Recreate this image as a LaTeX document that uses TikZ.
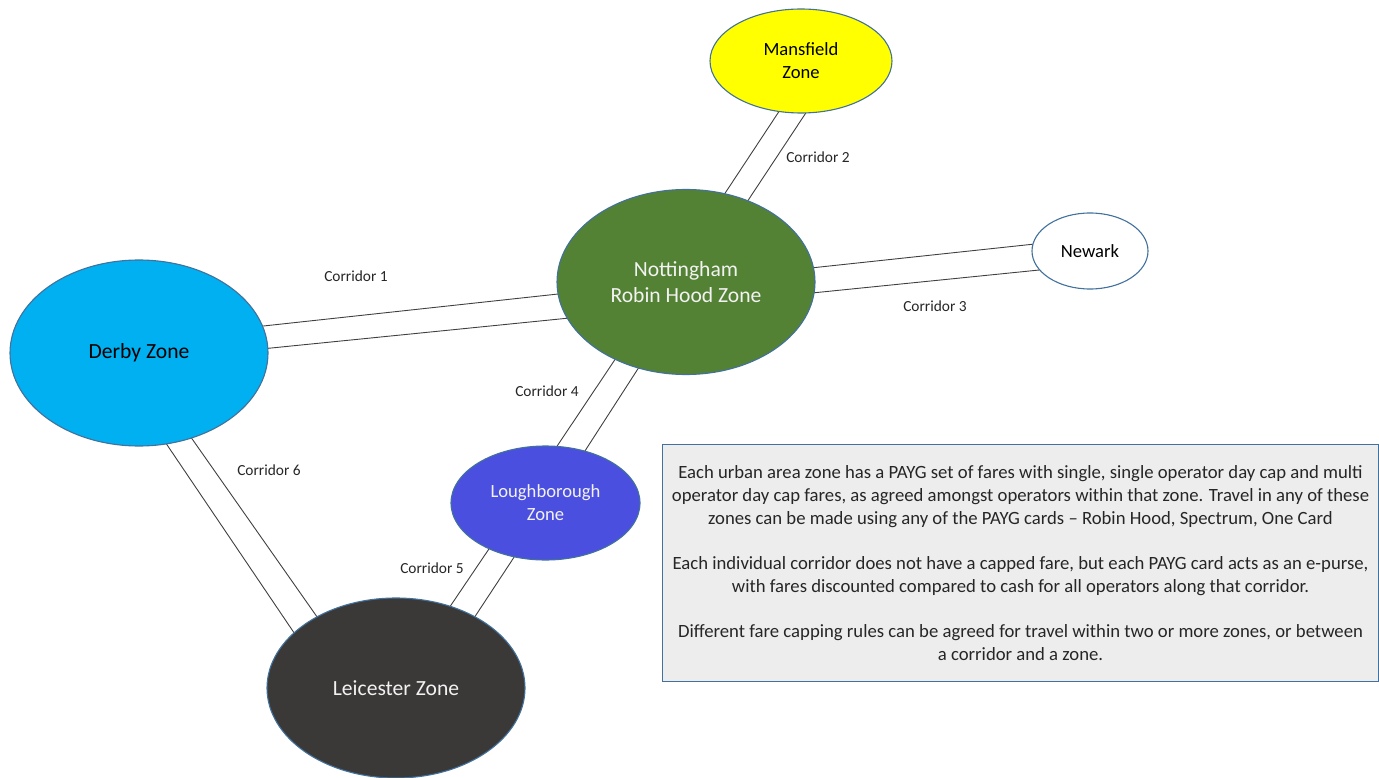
\documentclass[tikz,border=0pt]{standalone}
\usepackage{fontspec}
\setmainfont{Carlito}
\usetikzlibrary{shapes.geometric,backgrounds}
\definecolor{zoneline}{HTML}{41719C}
\definecolor{mansfill}{HTML}{FFFF00}
\definecolor{nottfill}{HTML}{548235}
\definecolor{derbyfill}{HTML}{00B0F0}
\definecolor{loughfill}{HTML}{4B4FE0}
\definecolor{leicfill}{HTML}{3B3838}
\definecolor{boxfill}{HTML}{EDEDED}
\definecolor{lighttext}{HTML}{F2F2F2}
\definecolor{corrline}{HTML}{404040}
\begin{document}
\begin{tikzpicture}[x=1pt,y=-1pt,
  zone/.style={ellipse, draw=zoneline, line width=1.1pt, inner sep=0pt, align=center},
  bigzone/.style={zone, font=\fontsize{21.6}{26}\selectfont},
  smallzone/.style={zone, font=\fontsize{18.6}{23}\selectfont},
  corr/.style={draw=corrline, line width=0.9pt},
  corrlabel/.style={font=\fontsize{15.4}{18}\selectfont, text=black!85, inner sep=0pt},
  infobox/.style={draw=zoneline, fill=boxfill, line width=1pt, align=center,
    font=\fontsize{18.7}{23}\selectfont, text=black!85, inner sep=0pt}]
\useasboundingbox (0,0) rectangle (1379,778);

% zones
\node[smallzone, fill=mansfill, minimum width=182pt, minimum height=104pt] (mans) at (801,61) {Mansfield\\Zone};
\node[bigzone, fill=nottfill, text=lighttext, minimum width=258pt, minimum height=185pt] (nott) at (686,282) {Nottingham\\Robin Hood Zone};
\node[smallzone, fill=white, minimum width=116pt, minimum height=76pt] (newark) at (1090,251) {Newark};
\node[bigzone, fill=derbyfill, minimum width=258pt, minimum height=186pt] (derby) at (139,353) {Derby Zone};
\node[smallzone, fill=loughfill, text=lighttext, minimum width=189pt, minimum height=114pt] (lough) at (545.5,503) {Loughborough\\Zone};
\node[bigzone, fill=leicfill, text=lighttext, minimum width=258pt, minimum height=180pt] (leic) at (396,688) {Leicester Zone};

% corridors (behind the zones)
\begin{pgfonlayer}{background}
\draw[corr] ([shift={(-15.1,40)}]mans.center) -- ([shift={(32.4,-78.7)}]nott.center);
\draw[corr] ([shift={(11.6,41.7)}]mans.center) -- ([shift={(55.7,-72)}]nott.center);
\draw[corr] ([shift={(112.4,-25.7)}]derby.center) -- ([shift={(-115.8,10.7)}]nott.center);
\draw[corr] ([shift={(117.4,-3.5)}]derby.center) -- ([shift={(-107.4,35.1)}]nott.center);
\draw[corr] ([shift={(115.4,-13)}]nott.center) -- ([shift={(-45.8,-8)}]newark.center);
\draw[corr] ([shift={(117.1,11.9)}]nott.center) -- ([shift={(-38.8,17.8)}]newark.center);
\draw[corr] ([shift={(-64.3,67.5)}]nott.center) -- ([shift={(6.1,-48.7)}]lough.center);
\draw[corr] ([shift={(-41.2,76.2)}]nott.center) -- ([shift={(34,-43.6)}]lough.center);
\draw[corr] ([shift={(-50.5,37)}]lough.center) -- ([shift={(49,-74)}]leic.center);
\draw[corr] ([shift={(-25.6,45.3)}]lough.center) -- ([shift={(73.4,-63)}]leic.center);
\draw[corr] ([shift={(20.3,80.4)}]derby.center) -- ([shift={(-96,-46.4)}]leic.center);
\draw[corr] ([shift={(45.1,74.5)}]derby.center) -- ([shift={(-73.4,-63.2)}]leic.center);
\end{pgfonlayer}

% corridor labels
\node[corrlabel] (c1) at (356,276) {Corridor 1};
\node[corrlabel] (c2) at (818,157) {Corridor 2};
\node[corrlabel] (c3) at (935,306) {Corridor 3};
\node[corrlabel] (c4) at (547,391) {Corridor 4};
\node[corrlabel] (c5) at (432,568) {Corridor 5};
\node[corrlabel] (c6) at (269,470) {Corridor 6};

% info box
\node[infobox, minimum width=716pt, minimum height=237pt] (info) at (1020.5,563) {%
Each urban area zone has a PAYG set of fares with single, single operator day cap and multi\\
operator day cap fares, as agreed amongst operators within that zone. Travel in any of these\\
zones can be made using any of the PAYG cards -- Robin Hood, Spectrum, One Card\\[22pt]
Each individual corridor does not have a capped fare, but each PAYG card acts as an e-purse,\\
with fares discounted compared to cash for all operators along that corridor.\\[22pt]
Different fare capping rules can be agreed for travel within two or more zones, or between\\
a corridor and a zone.};
\end{tikzpicture}
\end{document}
